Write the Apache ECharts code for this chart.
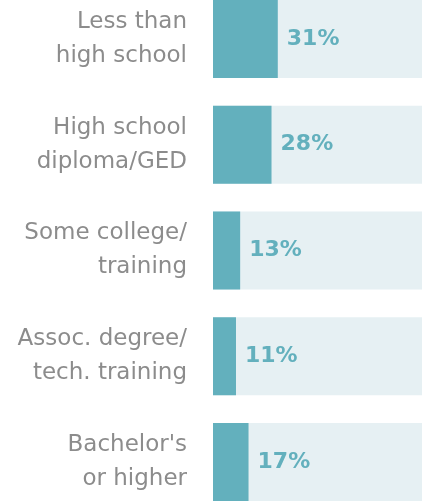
<!DOCTYPE html>
<html>
<head>
<meta charset="utf-8">
<script src="https://cdn.jsdelivr.net/npm/echarts@6/dist/echarts.min.js"></script>
<style>
  html, body { margin: 0; padding: 0; background: #fff; overflow: hidden; }
  #container { width: 425px; height: 529px; position: relative; top: -14px; }
</style>
</head>
<body>
<div id="container"></div>
<script>
// 学历分布
var categories = ['Less than\nhigh school', 'High school\ndiploma/GED', 'Some college/\ntraining', 'Assoc. degree/\ntech. training', "Bachelor's\nor higher"];
var values = [31, 28, 13, 11, 17];

var dom = document.getElementById("container");
var myChart = echarts.init(dom);
var option = {
  animation: false,
  grid: {
    left: 213,
    right: 3,
    top: 0,
    bottom: 0
  },
  xAxis: {
    type: 'value',
    min: 0,
    max: 100,
    show: false
  },
  yAxis: {
    type: 'category',
    inverse: true,
    data: categories,
    axisLine: { show: false },
    axisTick: { show: false },
    axisLabel: {
      margin: 26,
      color: '#8c8c8c',
      fontFamily: 'DejaVu Sans',
      fontSize: 23,
      lineHeight: 34,
      align: 'right'
    }
  },
  series: [
    {
      type: 'bar',
      data: values,
      barWidth: 78,
      showBackground: true,
      backgroundStyle: { color: '#e6f0f3' },
      itemStyle: { color: '#63b0bd' },
      label: {
        show: true,
        position: 'right',
        distance: 9,
        formatter: '{c}%',
        color: '#63b0bd',
        fontFamily: 'DejaVu Sans',
        fontWeight: 'bold',
        fontSize: 22
      }
    }
  ]
};
myChart.setOption(option, true);
</script>
</body>
</html>
